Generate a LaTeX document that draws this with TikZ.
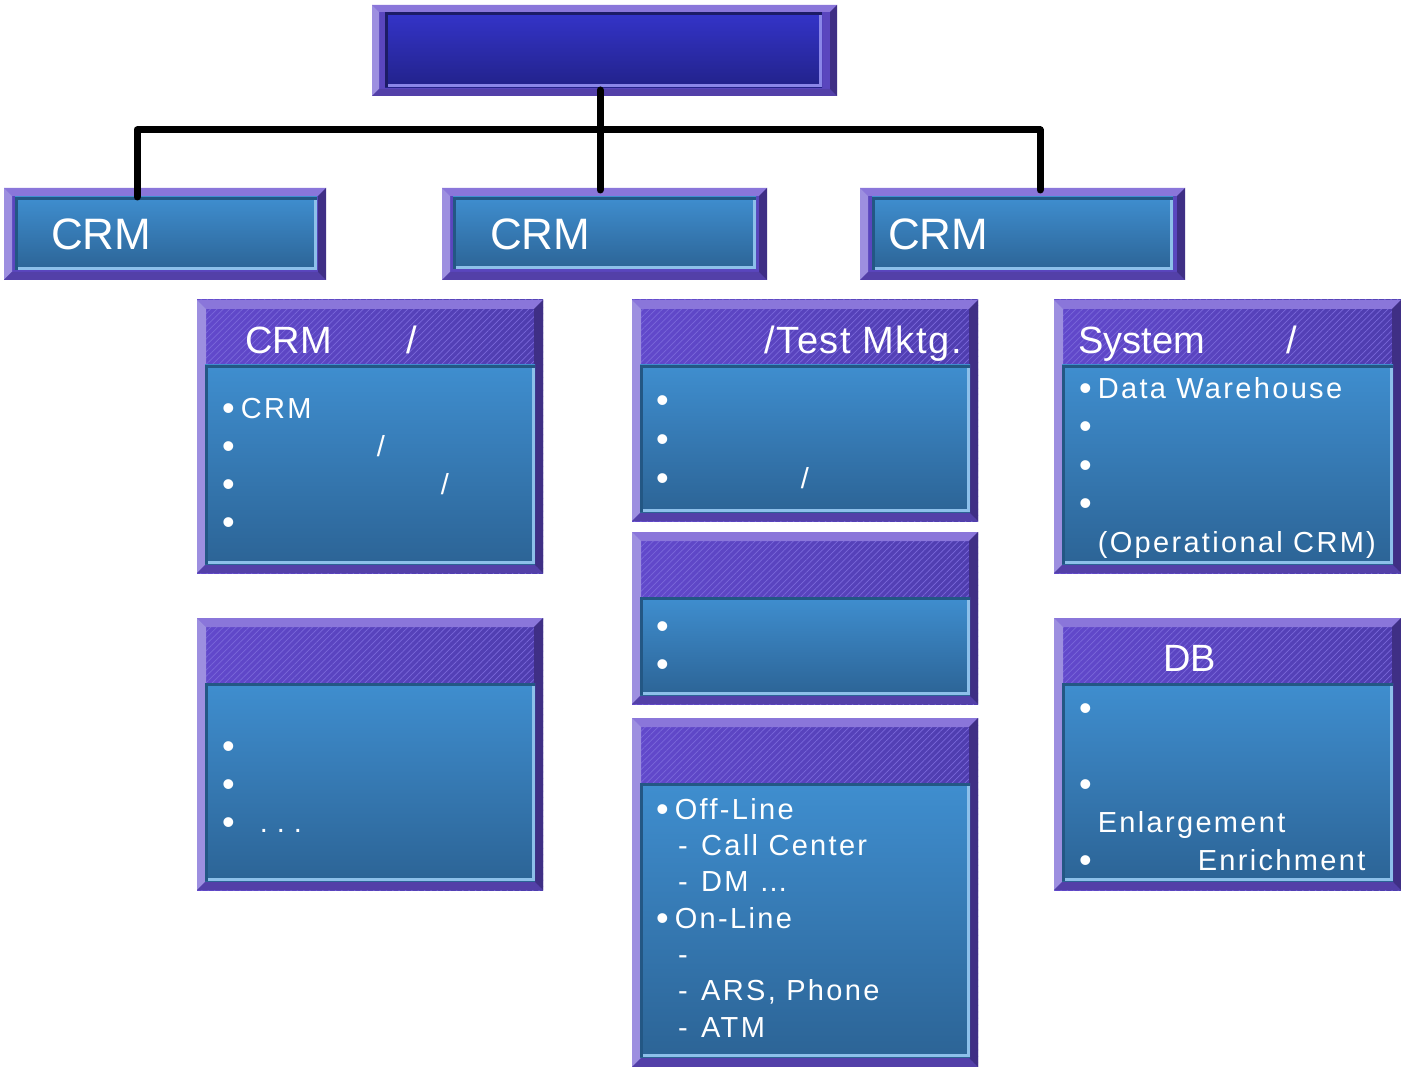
\documentclass[tikz,border=0pt]{standalone}
\usepackage{fontspec}
\setmainfont{Liberation Sans}
\newfontfamily\itemfont[LetterSpace=8]{Liberation Sans}
\newfontfamily\wideheadfont[LetterSpace=4]{Liberation Sans}
\usetikzlibrary{patterns.meta}

\definecolor{bevTop}{HTML}{8A76DA}
\definecolor{bevLeft}{HTML}{9D8FE0}
\definecolor{bevBot}{HTML}{5340A8}
\definecolor{bevRight}{HTML}{3F2F85}
\definecolor{frameMid}{HTML}{5A46BE}
\definecolor{hdrL}{HTML}{6249CC}
\definecolor{hdrR}{HTML}{4E3DAE}
\definecolor{hatch}{HTML}{7A68DA}
\definecolor{panTop}{HTML}{3F8ECF}
\definecolor{panBot}{HTML}{2C6496}
\definecolor{panDark}{HTML}{235784}
\definecolor{panLight}{HTML}{8DC0EA}
\definecolor{navyTop}{HTML}{3434C9}
\definecolor{navyBot}{HTML}{22228A}
\definecolor{navyDark}{HTML}{1C1C66}
\definecolor{navyLight}{HTML}{8A86E8}

% list bullet, a little larger than the text
\newcommand{\itm}{\raisebox{-2pt}{\fontsize{36}{36}\selectfont •}\hspace{6pt}}

\tikzset{
    bevel/.style={path picture={
        \coordinate (bvA) at (path picture bounding box.north west);
        \coordinate (bvB) at (path picture bounding box.south east);
        \coordinate (bvC) at (bvA -| bvB);
        \coordinate (bvD) at (bvA |- bvB);
        \fill[bevTop] (bvA) -- (bvC) -- ([shift={(-#1,#1)}]bvC) -- ([shift={(#1,#1)}]bvA) -- cycle;
        \fill[bevLeft] (bvA) -- ([shift={(#1,#1)}]bvA) -- ([shift={(#1,-#1)}]bvD) -- (bvD) -- cycle;
        \fill[bevBot] (bvD) -- ([shift={(#1,-#1)}]bvD) -- ([shift={(-#1,-#1)}]bvB) -- (bvB) -- cycle;
        \fill[bevRight] (bvC) -- (bvB) -- ([shift={(-#1,-#1)}]bvB) -- ([shift={(-#1,#1)}]bvC) -- cycle;
    }},
    inset/.style n args={4}{top color=#1, bottom color=#2, path picture={
        \coordinate (inA) at (path picture bounding box.north west);
        \coordinate (inB) at (path picture bounding box.south east);
        \coordinate (inC) at (inA -| inB);
        \coordinate (inD) at (inA |- inB);
        \fill[#4] ([shift={(0,-3)}]inD) rectangle (inB);
        \fill[#4] ([shift={(-3,0)}]inC) rectangle (inB);
        \fill[#3] (inA) rectangle ([shift={(0,3)}]inC);
        \fill[#3] (inA) rectangle ([shift={(3,0)}]inD);
    }},
    wh/.style 2 args={minimum width=#1pt, minimum height=#2pt},
    frame/.style={rectangle, inner sep=0pt, outer sep=0pt, anchor=north west, fill=frameMid, bevel=#1},
    hdrframe/.style={rectangle, inner sep=0pt, outer sep=0pt, anchor=north west,
        preaction={left color=hdrL, right color=hdrR},
        pattern={Lines[angle=45,distance=4.5pt,line width=0.7pt]}, pattern color=hatch, bevel=9},
    panel/.style={rectangle, inner sep=0pt, outer sep=0pt, anchor=north west, inset={panTop}{panBot}{panDark}{panLight}},
    title/.style={text=white, inner sep=0pt, anchor=base west, font=\fontsize{44}{50}\selectfont},
    head/.style={text=white, inner sep=0pt, anchor=base west, font=\fontsize{38}{44}\selectfont},
    % multi-line lists: placed by the baseline of their last line
    items/.style={text=white, inner sep=0pt, anchor=base west, align=left, font=\itemfont\fontsize{29}{38}\selectfont},
    bus/.style={line width=7pt, black, line cap=round, line join=round},
}

\begin{document}
\begin{tikzpicture}[x=1pt, y=-1pt]
\path[use as bounding box, fill=white] (0,0) rectangle (1401,1067);

% top box
\node[frame=7, wh={465}{91}] (top) at (372,5) {};
\node[rectangle, inner sep=0pt, anchor=north west, inset={navyTop}{navyBot}{navyDark}{navyLight}, wh={437}{75}] (top in) at (385,12) {};

% second row
\node[frame=8, wh={322}{92}] (crm1) at (4,188) {};
\node[panel, wh={302}{73}] (crm1 in) at (15,197) {};
\node[title] (crm1 txt) at (51,250) {CRM};

\node[frame=8, wh={325}{92}] (crm2) at (442,188) {};
\node[panel, wh={303}{72}] (crm2 in) at (453,197) {};
\node[title] (crm2 txt) at (490,250) {CRM};

\node[frame=8, wh={325}{92}] (crm3) at (860,188) {};
\node[panel, wh={301}{73}] (crm3 in) at (872,197) {};
\node[title] (crm3 txt) at (888,250) {CRM};

% left column
\node[hdrframe, wh={346}{273}] (l1) at (197,300) {};
\node[panel, wh={330}{199}] (l1 in) at (205,365) {};
\node[head] (l1 hd) at (245,354) {CRM\hspace{75pt}/};
\node[items] (l1 bd) at (222,532) {\itm CRM\\\itm\hspace{136pt}/\\\itm\hspace{200pt}/\\\itm};

\node[hdrframe, wh={346}{272}] (l2) at (197,618) {};
\node[panel, wh={330}{198}] (l2 in) at (205,683) {};
\node[items] (l2 bd) at (222,832) {\itm\\\itm\\\itm\hspace{19pt}.\hspace{9pt}.\hspace{9pt}.};

% middle column
\node[hdrframe, wh={346}{221}] (m1) at (632,300) {};
\node[panel, wh={330}{147}] (m1 in) at (640,365) {};
\node[head, anchor=base east, font=\wideheadfont\fontsize{38}{44}\selectfont] (m1 hd) at (962,354) {/Test Mktg.};
\node[items, font=\itemfont\fontsize{29}{39}\selectfont] (m1 bd) at (656,488) {\itm\\\itm\\\itm\hspace{126pt}/};

\node[hdrframe, wh={346}{172}] (m2) at (632,532) {};
\node[panel, wh={330}{98}] (m2 in) at (640,597) {};
\node[items] (m2 bd) at (656,674) {\itm\\\itm};

\node[hdrframe, wh={346}{349}] (m3) at (632,718) {};
\node[panel, wh={330}{274}] (m3 in) at (640,783) {};
\node[items, font=\itemfont\fontsize{29}{36.3}\selectfont] (m3 bd) at (656,1037)
    {\itm Off-Line\\\hspace*{22pt}- \hspace{3pt}Call Center\\\hspace*{22pt}- \hspace{3pt}DM …\\\itm On-Line\\\hspace*{22pt}-\\\hspace*{22pt}- \hspace{3pt}ARS, Phone\\\hspace*{22pt}- \hspace{3pt}ATM};

% right column
\node[hdrframe, wh={347}{273}] (r1) at (1054,300) {};
\node[panel, wh={331}{199}] (r1 in) at (1062,365) {};
\node[head] (r1 hd) at (1078,354) {System\hspace{82pt}/};
\node[items, font=\itemfont\fontsize{29}{38.5}\selectfont] (r1 bd) at (1079,552)
    {\itm Data Warehouse\\\itm\\\itm\\\itm\\\phantom{\itm}(Operational CRM)};

\node[hdrframe, wh={347}{272}] (r2) at (1054,618) {};
\node[panel, wh={331}{198}] (r2 in) at (1062,683) {};
\node[head] (r2 hd) at (1163,671) {DB};
\node[items] (r2 bd) at (1079,870) {\itm\\\mbox{}\\\itm\\\phantom{\itm}Enlargement\\\itm\hspace{100pt}Enrichment};

% connectors
\coordinate (hub) at (600,130);
\draw[bus] ([xshift=-4.5pt,yshift=6pt]top.south) -- ([xshift=-4.5pt,yshift=-2pt]crm2.north);
\draw[bus] ([xshift=-28pt,yshift=-9pt]crm1.north) |- (hub) -| ([xshift=17.5pt,yshift=-2pt]crm3.north);

\end{tikzpicture}
\end{document}
